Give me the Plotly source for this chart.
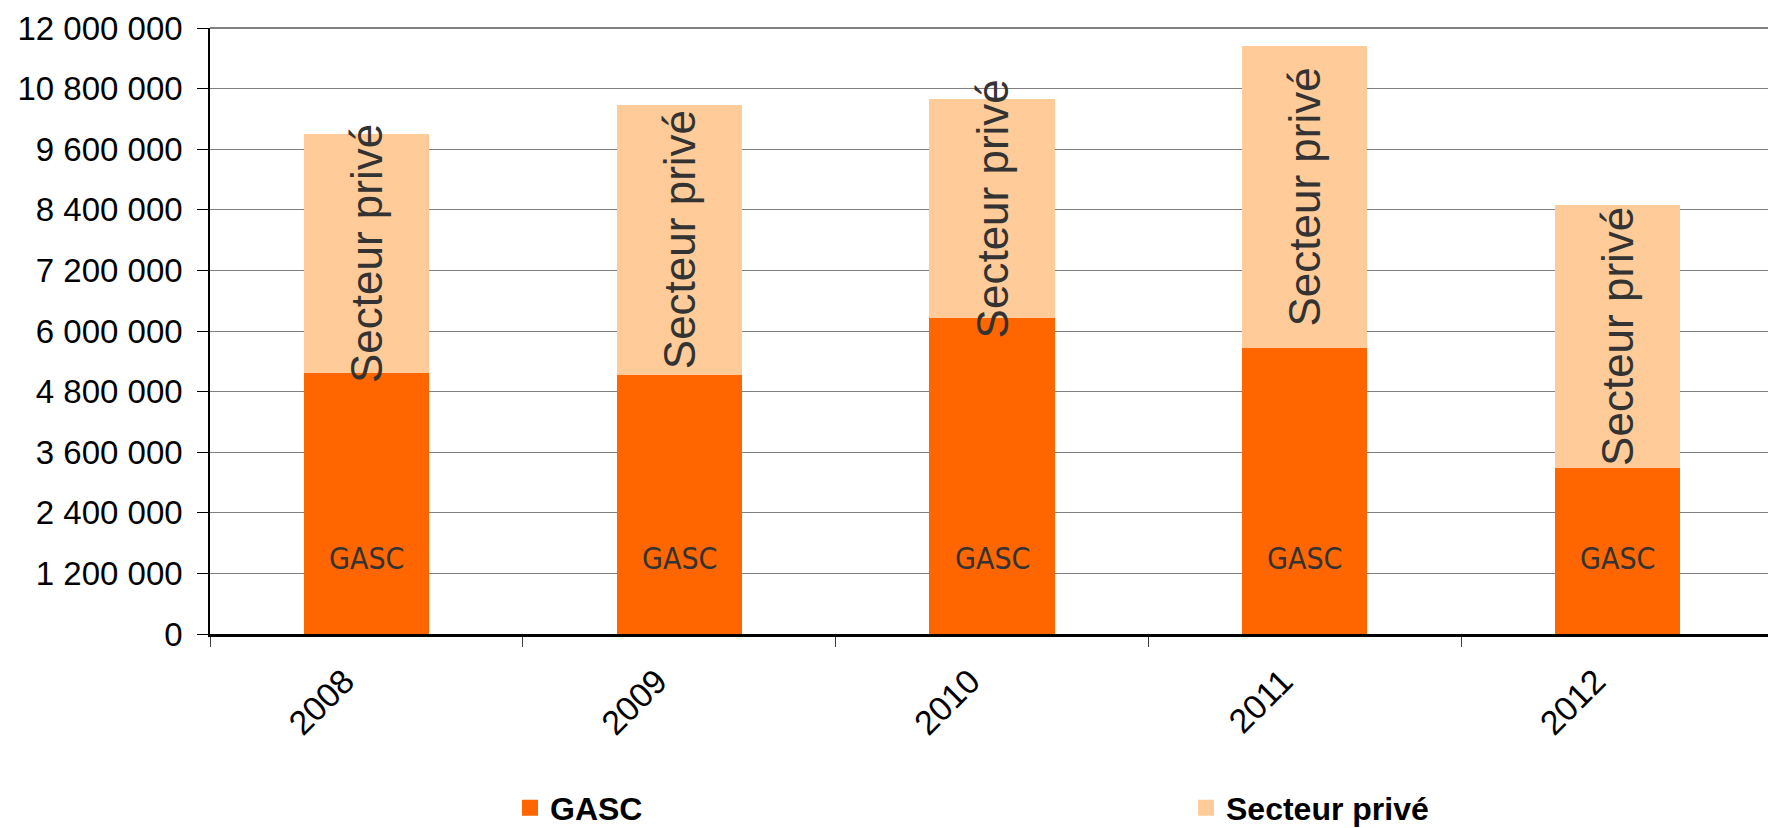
import plotly.graph_objects as go

years = ["2008", "2009", "2010", "2011", "2012"]
gasc = [5175000, 5135000, 6255000, 5665000, 3290000]
prive = [4720000, 5350000, 4330000, 5980000, 5210000]
gasc_labels = ["GASC", "GASC", "GASC", "GASC", "GASC"]
prive_labels = ["Secteur privé", "Secteur privé", "Secteur privé", "Secteur privé", "Secteur privé"]
y_tickvals = [0, 1200000, 2400000, 3600000, 4800000, 6000000, 7200000,
              8400000, 9600000, 10800000, 12000000]
y_ticktext = ["0", "1 200 000", "2 400 000", "3 600 000", "4 800 000", "6 000 000",
              "7 200 000", "8 400 000", "9 600 000", "10 800 000", "12 000 000"]

GASC_COLOR = "#FF6600"
PRIVE_COLOR = "#FFCC99"
FONT = "Liberation Sans, Arial, sans-serif"
NARROW = "Liberation Sans Narrow, Arial Narrow, DejaVu Sans Condensed, Liberation Sans, Arial, sans-serif"

W, H = 1768, 820  # page body has an 8px margin in the 1776x828 window

fig = go.Figure()
fig.add_trace(go.Bar(
    x=years, y=gasc, name="GASC", showlegend=False,
    marker=dict(color=GASC_COLOR, line=dict(width=0)),
))
fig.add_trace(go.Bar(
    x=years, y=prive, name="Secteur privé", showlegend=False,
    marker=dict(color=PRIVE_COLOR, line=dict(width=0)),
    text=prive_labels, textposition="inside", insidetextanchor="middle",
    textangle=-90, constraintext="none",
    textfont=dict(family=FONT, size=44, color="#333333"),
))

# legend entries (square swatches)
fig.add_trace(go.Scatter(x=[None], y=[None], mode="markers", name="GASC",
                         marker=dict(symbol="square", size=16, color=GASC_COLOR),
                         legend="legend"))
fig.add_trace(go.Scatter(x=[None], y=[None], mode="markers", name="Secteur privé",
                         marker=dict(symbol="square", size=16, color=PRIVE_COLOR),
                         legend="legend2"))

for i, lab in enumerate(gasc_labels):
    fig.add_annotation(x=i, y=0, xref="x", yref="y", text=lab, showarrow=False,
                       yanchor="middle", yshift=76,
                       font=dict(family=NARROW, size=30, color="#333333"))

# gray frame on top and right of plot area
fig.add_shape(type="line", xref="paper", yref="paper", x0=0, x1=1, y0=1, y1=1,
              line=dict(color="#808080", width=2))
fig.add_shape(type="line", xref="paper", yref="paper", x0=1, x1=1, y0=0, y1=1,
              line=dict(color="#808080", width=1.5))

legend_font = dict(family=FONT, size=32, color="black", weight="bold")
fig.update_layout(
    barmode="stack",
    bargap=0.6,
    width=W, height=H,
    margin=dict(l=202, r=2, t=16, b=194),
    paper_bgcolor="white", plot_bgcolor="white",
    font=dict(family=FONT, color="black"),
    showlegend=True,
    legend=dict(orientation="h", xref="container", yref="container",
                x=502 / W, xanchor="left", y=1 - 800 / H, yanchor="middle",
                itemsizing="trace", font=legend_font, bgcolor="rgba(0,0,0,0)"),
    legend2=dict(orientation="h", xref="container", yref="container",
                 x=1178 / W, xanchor="left", y=1 - 800 / H, yanchor="middle",
                 itemsizing="trace", font=legend_font, bgcolor="rgba(0,0,0,0)"),
    xaxis=dict(
        type="category", showline=True, linecolor="black", linewidth=2.5,
        ticks="outside", tickson="boundaries", ticklen=10, tickcolor="#404040",
        tickangle=-45, tickfont=dict(family=FONT, size=34, color="black"),
        ticklabelstandoff=11, ticklabelshift=-22, showgrid=False,
    ),
    yaxis=dict(
        range=[0, 12000000], tickvals=y_tickvals, ticktext=y_ticktext,
        showgrid=True, gridcolor="#808080", gridwidth=1, zeroline=False,
        showline=True, linecolor="black", linewidth=1.5,
        ticks="outside", ticklen=11, tickcolor="black",
        tickfont=dict(family=FONT, size=33, color="black"),
        ticklabelstandoff=8, ticklabeloverflow="allow",
    ),
)

fig.write_html("out.html")
